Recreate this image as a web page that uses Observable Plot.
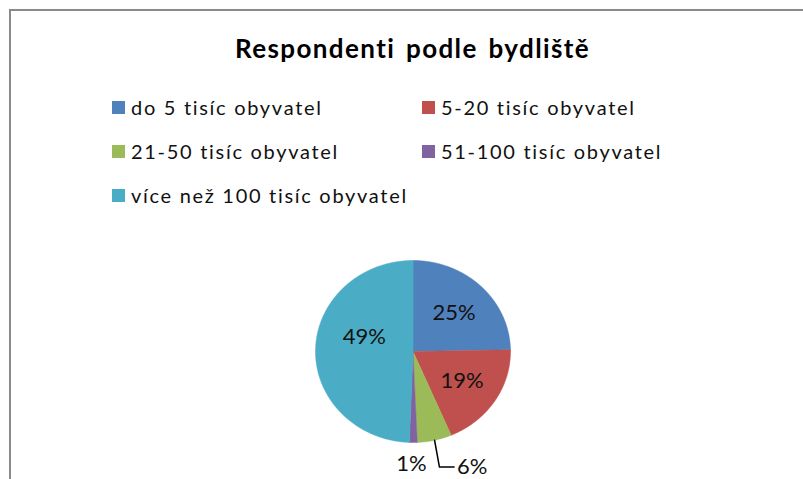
<!DOCTYPE html>
<html><head><meta charset="utf-8">
<script src="https://cdn.jsdelivr.net/npm/d3@7"></script>
<script src="https://cdn.jsdelivr.net/npm/@observablehq/plot@0.6"></script>
<style>
body{margin:0;background:#fff;}
#wrap{position:relative;width:803px;height:479px;overflow:hidden;font-family:Lato, "Open Sans", sans-serif;background:#fff;}
#wrap svg{position:absolute;left:0;top:0;overflow:visible;}
#frame{position:absolute;left:9px;top:9px;width:830px;height:520px;border-top:2px solid #8a8a8a;border-left:2px solid #8a8a8a;}
#title{position:absolute;left:0;width:825px;top:33px;text-align:center;font-weight:bold;font-size:26px;letter-spacing:1.4px;word-spacing:3px;line-height:30px;color:#000;}
.item{position:absolute;display:flex;align-items:center;font-size:20px;letter-spacing:1.7px;line-height:24px;color:#111;white-space:nowrap;}
.sw{width:13px;height:13px;margin-right:6px;flex:none;}
</style></head><body><div id="wrap"><div id="frame"></div></div>
<script>
const title = "Respondenti podle bydliště";
const categories = ["do 5 tisíc obyvatel", "5-20 tisíc obyvatel", "21-50 tisíc obyvatel", "51-100 tisíc obyvatel", "více než 100 tisíc obyvatel"];
const values = [24.7, 18.9, 5.7, 1.3, 49.4];
const colors = ["#4F81BD", "#C0504D", "#9BBB59", "#8064A2", "#4BACC6"];

const total = d3.sum(values);
let acc = 0;
const slices = categories.map((c, i) => {
  const a0 = acc / total * 2 * Math.PI; acc += values[i];
  const a1 = acc / total * 2 * Math.PI;
  return {key: c, value: values[i], a0, a1, mid: (a0 + a1) / 2, label: Math.round(values[i]) + "%"};
});
const pts = slices.flatMap(s => {
  const n = Math.max(2, Math.ceil((s.a1 - s.a0) / (Math.PI / 360)));
  const arr = [{key: s.key, x: 0, y: 0}];
  for (let k = 0; k <= n; k++) {
    const a = s.a0 + (s.a1 - s.a0) * k / n;
    arr.push({key: s.key, x: Math.sin(a), y: Math.cos(a)});
  }
  return arr;
});
// inside labels (best fit: nudged toward the upper part of wide slices)
const inside = slices.filter(s => s.value >= 10).map(s => {
  const r = 0.6;
  const lift = s.value > 40 ? 0.15 : 0;
  return {label: s.label, x: r * Math.sin(s.mid) + (s.value > 40 ? 0.1 : 0), y: r * Math.cos(s.mid) + lift};
});
// outside labels for small slices
const small = slices.filter(s => s.value < 10);
const direct = small.filter(s => Math.abs(Math.sin(s.mid)) < 0.1).map(s => ({label: s.label, x: 1.22 * Math.sin(s.mid) - 0.02, y: -1.24}));
const leader = small.filter(s => Math.abs(Math.sin(s.mid)) >= 0.1);
const leaderLines = leader.flatMap(s => {
  const sx = Math.sin(s.mid), sy = Math.cos(s.mid);
  return [{key: s.key, x: sx, y: sy}, {key: s.key, x: sx + 0.05, y: -1.27}, {key: s.key, x: sx + 0.2, y: -1.27}];
});
const leaderLabels = leader.map(s => ({label: s.label, x: Math.sin(s.mid) + 0.23, y: -1.27}));

const plot = Plot.plot({
  width: 803, height: 479,
  marginLeft: 315, marginRight: 293, marginTop: 260, marginBottom: 37,
  x: {domain: [-1, 1], axis: null},
  y: {domain: [-1, 1], axis: null},
  color: {domain: categories, range: colors},
  style: {fontFamily: "Lato, 'Open Sans', sans-serif", background: "transparent"},
  marks: [
    Plot.line(pts, {x: "x", y: "y", z: "key", fill: "key", stroke: "key", strokeWidth: 0.5, curve: "linear-closed"}),
    Plot.text(inside, {x: "x", y: "y", text: "label", fontSize: 22, fill: "#111"}),
    Plot.text(direct, {x: "x", y: "y", text: "label", fontSize: 22, fill: "#111"}),
    Plot.line(leaderLines, {x: "x", y: "y", z: "key", stroke: "#000", strokeWidth: 1.5}),
    Plot.text(leaderLabels, {x: "x", y: "y", text: "label", fontSize: 22, fill: "#111", textAnchor: "start"})
  ]
});
const wrap = document.getElementById("wrap");
wrap.appendChild(plot);

const t = document.createElement("div");
t.id = "title"; t.textContent = title;
wrap.appendChild(t);

const colLeft = [112, 422];
const rowCenter = [107, 151, 195];
categories.forEach((c, i) => {
  const d = document.createElement("div");
  d.className = "item";
  d.style.left = colLeft[i % 2] + "px";
  d.style.top = (rowCenter[Math.floor(i / 2)] - 12) + "px";
  const sw = document.createElement("span");
  sw.className = "sw"; sw.style.background = plot.scale("color").apply(c);
  const tx = document.createElement("span");
  tx.textContent = c;
  d.appendChild(sw); d.appendChild(tx);
  wrap.appendChild(d);
});
</script></body></html>
